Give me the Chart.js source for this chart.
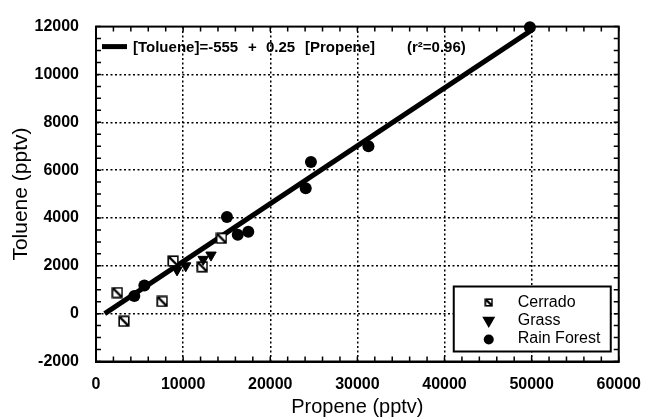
<!DOCTYPE html>
<html><head><meta charset="utf-8">
<script src="https://cdn.jsdelivr.net/npm/chart.js@4/dist/chart.umd.min.js"></script>
<style>html,body{margin:0;padding:0;background:#fff}</style>
</head><body>
<canvas id="c" width="654" height="420" style="width:654px;height:420px;display:block"></canvas>
<script>
// ---- data ----
const cerradoX = [2450, 3200, 7600, 8850, 12200, 14400];
const cerradoY = [880, -320, 510, 2200, 1960, 3150];
const grassX = [9300, 10300, 12300, 13200];
const grassY = [1830, 2000, 2270, 2450];
const forestX = [4400, 5550, 15030, 16270, 17480, 24070, 24670, 31270, 49800];
const forestY = [740, 1175, 4040, 3300, 3420, 5240, 6340, 7000, 11970];
const fitX = [1000, 50000];
const fitY = [0, 11850];
const xTickValues = [0, 10000, 20000, 30000, 40000, 50000, 60000];
const yTickValues = [-2000, 0, 2000, 4000, 6000, 8000, 10000, 12000];
const seriesNames = ['Cerrado', 'Grass', 'Rain Forest'];
const fitLabelParts = ['[Toluene]=-555', '+', '0.25', '[Propene]', '(r\u00B2=0.96)'];
const xTitle = 'Propene (pptv)';
const yTitle = 'Toluene (pptv)';

const pts = (xs, ys) => xs.map((x, i) => ({x, y: ys[i]}));
const FONT = '"Liberation Sans", Arial, Helvetica, sans-serif';

// Cerrado marker: open square with diagonal
function makeSquare(size) {
  const c = document.createElement('canvas');
  c.width = size; c.height = size;
  const g = c.getContext('2d');
  g.fillStyle = '#fff'; g.fillRect(1, 1, size - 2, size - 2);
  g.strokeStyle = '#000'; g.lineWidth = 1.6;
  g.strokeRect(1.2, 1.2, size - 2.4, size - 2.4);
  g.lineWidth = 2.4;
  g.beginPath(); g.moveTo(2, 2); g.lineTo(size - 2, size - 2); g.stroke();
  return c;
}
const sqImg = makeSquare(12);

const xMin = 0, xMax = 60000, yMin = -2000, yMax = 12000;
const gridColor = (ctx) => {
  const v = ctx.tick ? ctx.tick.value : null;
  const s = ctx.scale;
  return (v === s.min || v === s.max) ? 'rgba(0,0,0,0)' : '#000';
};

const tickPlugin = {
  id: 'ticks',
  afterDatasetsDraw(chart) {
    const {ctx, chartArea: a, scales: {x, y}} = chart;
    ctx.save();
    ctx.strokeStyle = '#000'; ctx.lineWidth = 1.5;
    const L = 5;
    ctx.beginPath();
    for (let v = xMin; v <= xMax; v += 2000) {
      const px = x.getPixelForValue(v);
      ctx.moveTo(px, a.bottom); ctx.lineTo(px, a.bottom - L);
      ctx.moveTo(px, a.top); ctx.lineTo(px, a.top + L);
    }
    for (let v = yMin; v <= yMax; v += 500) {
      const py = y.getPixelForValue(v);
      ctx.moveTo(a.left, py); ctx.lineTo(a.left + L, py);
      ctx.moveTo(a.right, py); ctx.lineTo(a.right - L, py);
    }
    ctx.stroke();
    ctx.restore();
  }
};

const legendPlugin = {
  id: 'legends',
  afterDraw(chart) {
    const {ctx, chartArea: a} = chart;
    ctx.save();
    // fit legend (top left)
    const ly = a.top + 20;
    ctx.strokeStyle = '#000'; ctx.lineWidth = 5; ctx.lineCap = 'butt';
    ctx.beginPath(); ctx.moveTo(a.left + 6, ly); ctx.lineTo(a.left + 31, ly); ctx.stroke();
    ctx.fillStyle = '#000';
    ctx.font = 'bold 15px ' + FONT;
    ctx.textBaseline = 'middle'; ctx.textAlign = 'left';
    const offs = [37, 152, 170, 209, 311];
    fitLabelParts.forEach((t, i) => ctx.fillText(t, a.left + offs[i], ly + 1.5));
    // series legend box (bottom right)
    const bx = a.right - 165, by = a.bottom - 75, bw = 157, bh = 65;
    ctx.fillStyle = '#fff'; ctx.fillRect(bx, by, bw, bh);
    ctx.strokeStyle = '#000'; ctx.lineWidth = 2; ctx.strokeRect(bx, by, bw, bh);
    const mx = bx + 35, tx = bx + 64;
    const rows = [by + 16, by + 34, by + 52];
    ctx.fillStyle = '#000';
    ctx.font = '16px ' + FONT;
    ctx.textBaseline = 'middle';
    rows.forEach((ry, i) => ctx.fillText(seriesNames[i], tx, ry));
    ctx.drawImage(makeSquare(9), mx - 4.5, rows[0] - 4.5);
    Chart.helpers.drawPoint(ctx, {pointStyle: 'triangle', radius: 5.5, rotation: 180, borderWidth: 1}, mx, rows[1]);
    ctx.fill();
    ctx.beginPath(); ctx.arc(mx, rows[2] + 1, 5, 0, Math.PI * 2); ctx.fill();
    ctx.restore();
  }
};

new Chart(document.getElementById('c'), {
  type: 'scatter',
  data: {
    datasets: [
      {label: 'fit', type: 'line', data: pts(fitX, fitY), borderColor: '#000', borderWidth: 5,
       pointRadius: 0, fill: false, order: 10, clip: false},
      {label: seriesNames[0], data: pts(cerradoX, cerradoY), pointStyle: sqImg, order: 3, clip: false},
      {label: seriesNames[1], data: pts(grassX, grassY), pointStyle: 'triangle', rotation: 180,
       pointRadius: 6, backgroundColor: '#000', borderColor: '#000', borderWidth: 1, order: 2, clip: false},
      {label: seriesNames[2], data: pts(forestX, forestY), pointStyle: 'circle', pointRadius: 6,
       backgroundColor: '#000', borderColor: '#000', borderWidth: 0, order: 1, clip: false}
    ]
  },
  options: {
    responsive: false, animation: false, devicePixelRatio: 1,
    layout: {padding: {top: 22, right: 27, left: 0, bottom: 0}},
    plugins: {legend: {display: false}, tooltip: {enabled: false}},
    scales: {
      x: {
        type: 'linear', min: xMin, max: xMax,
        afterBuildTicks: s => { s.ticks = xTickValues.map(v => ({value: v})); },
        afterFit: s => { s.height = 58.5; },
        grid: {color: gridColor, lineWidth: 1.5, drawTicks: false},
        border: {display: true, color: '#000', width: 2, dash: [2, 2.5]},
        ticks: {color: '#000', font: {family: FONT, size: 16, weight: 'bold'}, padding: 13, maxRotation: 0,
                callback: v => String(v)},
        title: {display: true, text: xTitle, color: '#000', font: {family: FONT, size: 20}, padding: {top: 0, bottom: 1}}
      },
      y: {
        type: 'linear', min: yMin, max: yMax,
        afterBuildTicks: s => { s.ticks = yTickValues.map(v => ({value: v})); },
        afterFit: s => { s.width = 96; },
        grid: {color: gridColor, lineWidth: 1.5, drawTicks: false},
        border: {display: true, color: '#000', width: 2, dash: [2, 2.5]},
        ticks: {color: '#000', font: {family: FONT, size: 16, weight: 'bold'}, padding: 17,
                callback: v => String(v)},
        title: {display: true, text: yTitle, color: '#000', font: {family: FONT, size: 21}, padding: {top: 9, bottom: 0}}
      }
    }
  },
  plugins: [tickPlugin, legendPlugin, {
    id: 'frame',
    afterDatasetsDraw(chart) {
      const {ctx, chartArea: a} = chart;
      ctx.save(); ctx.strokeStyle = '#000'; ctx.lineWidth = 2;
      ctx.strokeRect(a.left, a.top, a.right - a.left, a.bottom - a.top);
      ctx.restore();
    }
  }]
});
</script>
</body></html>
